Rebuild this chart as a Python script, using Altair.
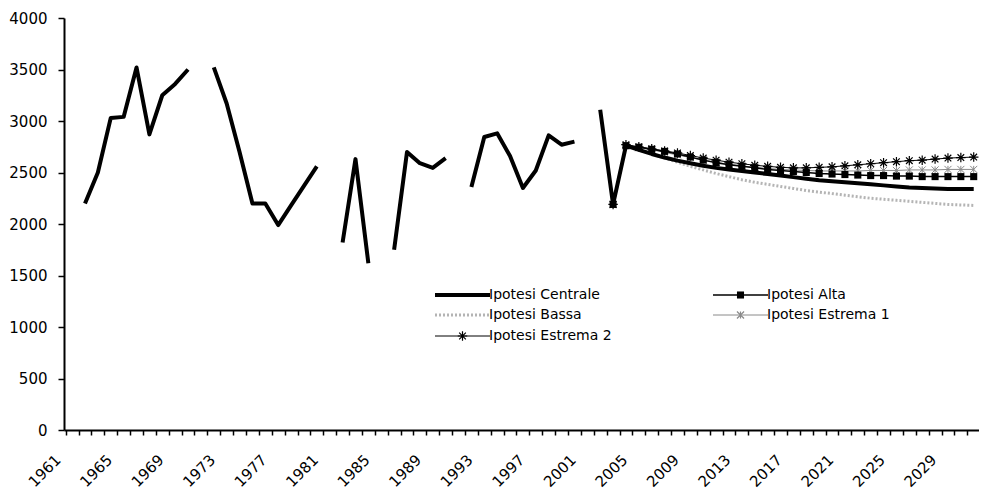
import altair as alt
import pandas as pd

# ---------------- data ----------------
centrale_years = list(range(1962, 2032))
centrale_values = [
    2200, 2500, 3030, 3040, 3520, 2870, 3250, 3360, 3500, None,   # 1962-1971
    3520, 3170, 2700, 2200, 2200, 1990, 2180, 2370, 2560, None,   # 1972-1981
    1820, 2630, 1620, None, 1750, 2700, 2590, 2545, 2640, None,   # 1982-1991
    2360, 2845, 2880, 2660, 2350, 2520, 2860, 2770, 2800, None,   # 1992-2001
    3110, 2190,                                                   # 2002-2003
    2760, 2720, 2680, 2645, 2615, 2590, 2565, 2545, 2530, 2515,   # 2004-2013
    2500, 2485, 2470, 2455, 2440, 2425, 2415, 2405, 2395, 2385,   # 2014-2023
    2375, 2365, 2355, 2350, 2345, 2340, 2340, 2340,               # 2024-2031
]

proj_years = list(range(2003, 2032))
alta_values = [2190, 2760, 2745, 2725, 2705, 2680, 2650, 2620, 2595, 2575, 2560,
               2545, 2530, 2520, 2510, 2500, 2490, 2485, 2480, 2475, 2470,
               2470, 2465, 2465, 2460, 2460, 2460, 2460, 2460]
bassa_values = [2190, 2760, 2720, 2680, 2640, 2600, 2560, 2525, 2490, 2460, 2430,
                2405, 2385, 2365, 2345, 2325, 2310, 2295, 2280, 2265, 2250,
                2240, 2230, 2220, 2210, 2200, 2190, 2185, 2180]
estrema1_values = [2190, 2760, 2740, 2720, 2695, 2670, 2645, 2620, 2600, 2580, 2565,
                   2550, 2540, 2530, 2525, 2520, 2515, 2515, 2515, 2515, 2520,
                   2520, 2520, 2525, 2525, 2525, 2530, 2530, 2530]
estrema2_values = [2190, 2770, 2750, 2730, 2710, 2690, 2665, 2640, 2620, 2600, 2585,
                   2570, 2560, 2550, 2545, 2545, 2550, 2555, 2565, 2575, 2585,
                   2595, 2605, 2615, 2620, 2630, 2640, 2645, 2650]

series_names = ["Ipotesi Centrale", "Ipotesi Alta", "Ipotesi Bassa",
                "Ipotesi Estrema 1", "Ipotesi Estrema 2"]

y_ticks = list(range(0, 4001, 500))
first_label_year = 1961
label_step = 4

# ---------------- tables ----------------
rows = []
seg = 0
for yr, v in zip(centrale_years, centrale_values):
    if v is None:
        seg += 1
        continue
    rows.append({"year": yr, "value": v, "seg": seg})
df_centrale = pd.DataFrame(rows)

def proj_df(vals):
    return pd.DataFrame({"year": proj_years, "value": vals})

df_alta = proj_df(alta_values)
df_bassa = proj_df(bassa_values)
df_e1 = proj_df(estrema1_values)
df_e2 = proj_df(estrema2_values)

# ---------------- scales / axes ----------------
FONT = "DejaVu Sans"
xscale = alt.Scale(domain=[1960.37, 2031.41], nice=False, zero=False)
yscale = alt.Scale(domain=[0, 4000], nice=False)

tick_vals = [1960.5 + k for k in range(71)]
xaxis = alt.Axis(
    values=tick_vals, title=None, grid=False,
    tickSize=5, tickWidth=1.5, tickColor="black",
    domainColor="black", domainWidth=2,
    labelExpr=f"(datum.value + 0.5 - {first_label_year}) % {label_step} == 0 ? '' + (datum.value + 0.5) : ''",
    labelAngle=315, labelAlign="right", labelBaseline="middle",
    labelPadding=22, labelOffset=-8,
    labelFont=FONT, labelFontSize=15, labelColor="black",
    labelOverlap=False, labelFlush=False, labelBound=False,
)
yaxis = alt.Axis(
    values=y_ticks, title=None, grid=False, format="d",
    tickSize=6, tickWidth=1.5, tickColor="black",
    domainColor="black", domainWidth=2,
    labelFont=FONT, labelFontSize=15, labelColor="black", labelPadding=11,
)
X = alt.X("year:Q", scale=xscale, axis=xaxis)
Y = alt.Y("value:Q", scale=yscale, axis=yaxis)

STAR = "M-1,0L1,0M0,-1L0,1M-0.7,-0.7L0.7,0.7M-0.7,0.7L0.7,-0.7"
XMARK = "M-1,-1L1,1M-1,1L1,-1M0,-1L0,1"

bassa_line = alt.Chart(df_bassa).mark_line(
    color="#b4b4b4", strokeWidth=3, strokeDash=[2, 2]).encode(x=X, y=Y)
e1_line = alt.Chart(df_e1).mark_line(color="#8a8a8a", strokeWidth=1).encode(x=X, y=Y)
e1_pts = alt.Chart(df_e1).mark_point(
    shape=XMARK, filled=False, color="#8a8a8a", size=50, strokeWidth=1, opacity=1).encode(x=X, y=Y)
e2_line = alt.Chart(df_e2).mark_line(color="black", strokeWidth=1).encode(x=X, y=Y)
e2_pts = alt.Chart(df_e2).mark_point(
    shape=STAR, filled=False, color="black", size=90, strokeWidth=1.2, opacity=1).encode(x=X, y=Y)
alta_line = alt.Chart(df_alta).mark_line(color="black", strokeWidth=1.5).encode(x=X, y=Y)
alta_pts = alt.Chart(df_alta).mark_point(
    shape="square", filled=True, color="black", size=50, opacity=1).encode(x=X, y=Y)
centrale_line = alt.Chart(df_centrale).mark_line(
    color="black", strokeWidth=4, strokeJoin="round").encode(x=X, y=Y, detail="seg:N")

# ---------------- manual legend (pixel layout, plot coordinates) ----------------
col_x = [371, 649]          # line start of each legend column
row_y = [277, 297, 318]     # centre of each legend row
line_len = 55
legend_layout = [  # (series index, column, row)
    (0, 0, 0), (2, 0, 1), (4, 0, 2), (1, 1, 0), (3, 1, 1)
]
legend_style = {
    0: dict(color="black", width=4, dash=None, marker=None),
    1: dict(color="black", width=1.5, dash=None, marker=("square", True, 50)),
    2: dict(color="#b4b4b4", width=3, dash=[2, 2], marker=None),
    3: dict(color="#8a8a8a", width=1, dash=None, marker=(XMARK, False, 50)),
    4: dict(color="black", width=1, dash=None, marker=(STAR, False, 90)),
}
dummy = pd.DataFrame({"a": [0]})
legend_layers = []
for si, c, r in legend_layout:
    st = legend_style[si]
    x0 = col_x[c]
    yy = row_y[r]
    kw = dict(color=st["color"], strokeWidth=st["width"])
    if st["dash"]:
        kw["strokeDash"] = st["dash"]
    legend_layers.append(alt.Chart(dummy).mark_rule(**kw).encode(
        x=alt.value(x0), x2=alt.value(x0 + line_len), y=alt.value(yy)))
    if st["marker"]:
        shp, fil, sz = st["marker"]
        legend_layers.append(alt.Chart(dummy).mark_point(
            shape=shp, filled=fil, color=st["color"], size=sz, opacity=1,
            strokeWidth=1.2).encode(x=alt.value(x0 + line_len / 2), y=alt.value(yy)))
    legend_layers.append(alt.Chart(dummy).mark_text(
        text=series_names[si], font=FONT, fontSize=14, color="black",
        align="left", baseline="middle").encode(
        x=alt.value(x0 + line_len - 1), y=alt.value(yy)))

chart = alt.layer(
    bassa_line, e1_line, e1_pts, e2_line, e2_pts, alta_line, alta_pts, centrale_line,
    *legend_layers
).properties(
    width=915, height=412,
    autosize=alt.AutoSizeParams(type="none"),
    padding={"left": 56, "top": 10, "right": 0, "bottom": 60},
    background="white",
).configure_view(stroke=None)

chart.save("out.html", embed_options={"renderer": "svg", "actions": False})
